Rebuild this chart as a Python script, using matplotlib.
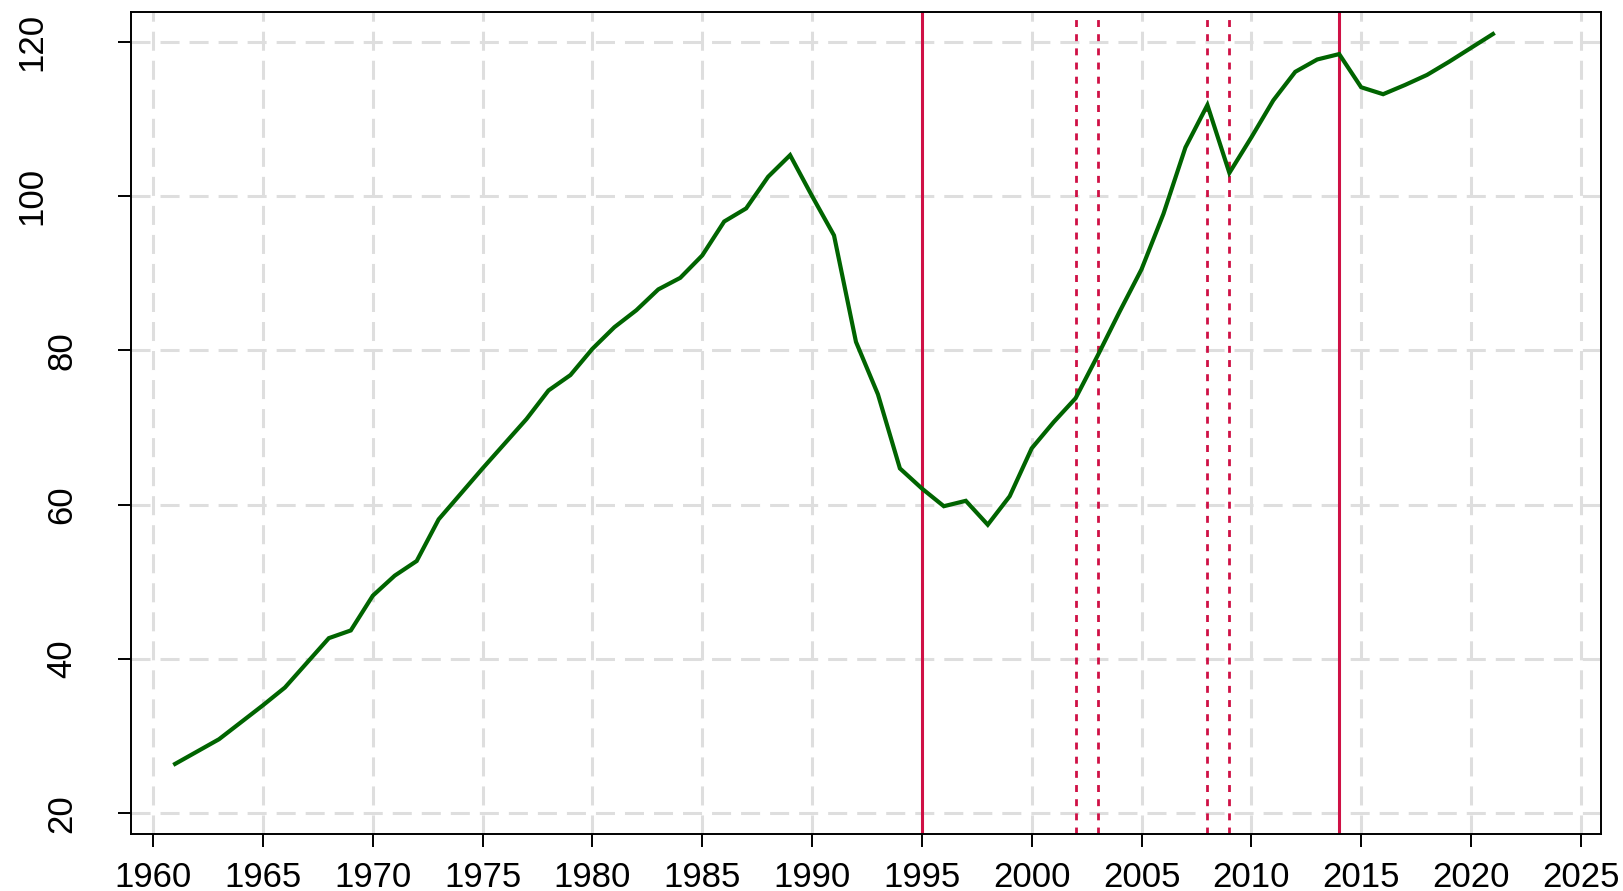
import matplotlib
matplotlib.use("Agg")
import matplotlib.pyplot as plt
from matplotlib.transforms import ScaledTranslation

years = list(range(1961, 2022))
values = [
    26.4, 28.0, 29.6, 31.8, 34.0, 36.3, 39.5, 42.7, 43.7, 48.2,   # 1961-1970
    50.8, 52.7, 58.1, 61.4, 64.7, 67.9, 71.1, 74.8, 76.8, 80.2,   # 1971-1980
    83.0, 85.2, 87.9, 89.4, 92.3, 96.7, 98.4, 102.5, 105.3, 100.0,  # 1981-1990
    94.9, 81.1, 74.3, 64.7, 62.1, 59.8, 60.5, 57.4, 61.1, 67.3,   # 1991-2000
    70.7, 73.8, 79.3, 85.0, 90.5, 97.7, 106.3, 111.8, 103.0, 107.6,  # 2001-2010
    112.4, 116.1, 117.7, 118.4, 114.1, 113.2, 114.4, 115.7, 117.4, 119.2,  # 2011-2020
    121.0,  # 2021
]
solid_years = [1995, 2014]
dotted_years = [2002, 2003, 2008, 2009]
x_ticks = list(range(1960, 2030, 5))
y_ticks = [20, 40, 60, 80, 100, 120]

plt.rcParams['font.family'] = ['Liberation Sans', 'DejaVu Sans']
plt.rcParams['lines.scale_dashes'] = False

fig = plt.figure(figsize=(16.24, 8.91), dpi=100)
ax = fig.add_axes([0.0809, 0.0640, 0.9857 - 0.0809, 0.9865 - 0.0640])

grid_col = '#DEDEDE'
for xv in x_ticks:
    ax.axvline(xv, color=grid_col, lw=2.2, dashes=(13.7, 7.2), zorder=1)
for yv in y_ticks:
    ax.axhline(yv, color=grid_col, lw=2.2, dashes=(13.7, 7.2), zorder=1)

red = '#CF1045'
for xv in solid_years:
    ax.axvline(xv, color=red, lw=2.2, zorder=2)
for xv in dotted_years:
    ax.axvline(xv, color=red, lw=2.0, dashes=(5.0, 5.2), zorder=2)

ax.plot(years, values, color='#006400', lw=3.0, zorder=3, solid_joinstyle='miter')

ax.set_xlim(1959.01, 2025.91)
ax.set_ylim(17.32, 123.85)
ax.set_xticks(x_ticks)
ax.set_yticks(y_ticks)
ax.set_xticklabels([str(v) for v in x_ticks])
ax.set_yticklabels([str(v) for v in y_ticks], rotation=90, va='center')

ax.tick_params(axis='both', labelsize=25, length=9.4, width=1.4, colors='black')
ax.tick_params(axis='x', pad=10)
ax.tick_params(axis='y', pad=29)
for s in ax.spines.values():
    s.set_linewidth(1.4)
    s.set_color('black')

# three-digit labels sit further from the axis in the reference
for lab, v in zip(ax.get_yticklabels(), y_ticks):
    if v >= 100:
        lab.set_transform(lab.get_transform() + ScaledTranslation(-30 / 100, 0, fig.dpi_scale_trans))

fig.savefig('out.png', dpi=100)
